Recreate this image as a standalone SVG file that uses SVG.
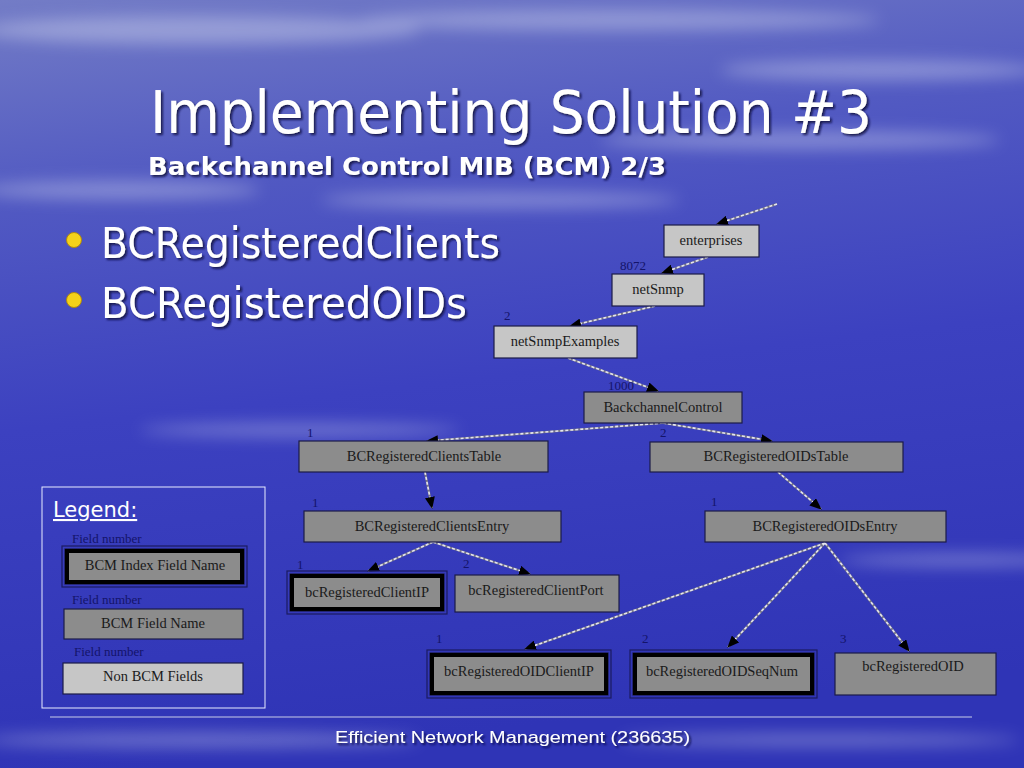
<svg xmlns="http://www.w3.org/2000/svg" width="1024" height="768" viewBox="0 0 1024 768">
<defs>
<linearGradient id="bg" x1="0" y1="0" x2="0.15" y2="1">
<stop offset="0" stop-color="#737cc6"/>
<stop offset="0.25" stop-color="#525ac2"/>
<stop offset="0.55" stop-color="#3c41c0"/>
<stop offset="1" stop-color="#2f34b6"/>
</linearGradient>
<filter id="blur" x="-20%" y="-50%" width="140%" height="200%"><feGaussianBlur stdDeviation="8"/></filter>
<filter id="sh" x="-5%" y="-20%" width="110%" height="140%"><feDropShadow dx="2" dy="2" stdDeviation="0.8" flood-color="#101040" flood-opacity="0.85"/></filter>
<marker id="arr" markerUnits="userSpaceOnUse" markerWidth="12" markerHeight="10" refX="11" refY="5" orient="auto">
<path d="M0,0 L12,5 L0,10 Z" fill="#000"/>
</marker>
<style>
.title{font-family:"DejaVu Sans",Tahoma,sans-serif;fill:#fff}
.bul{font-family:"DejaVu Sans",Tahoma,sans-serif;fill:#fff;font-size:42px}
.nd{fill:#8c8c8c;stroke:#1c1c48;stroke-width:1.2}
.nl{fill:#c6c6c6;stroke:#1c1c48;stroke-width:1.2}
.idx{fill:none;stroke:#000;stroke-width:4}
.out{fill:none;stroke:#1c1c60;stroke-width:1.2}
.t{font-family:"Liberation Serif","Times New Roman",serif;font-size:14.5px;fill:#1a1a1a;text-anchor:middle}
.n{font-family:"Liberation Serif","Times New Roman",serif;font-size:13px;fill:#14146a}
.c{fill:none;stroke:#e4e4f0;stroke-width:1.6;stroke-dasharray:3 2}
.cb{fill:none;stroke:#777788;stroke-width:2.2}
</style>
</defs>
<rect width="1024" height="768" fill="url(#bg)"/>
<g opacity="0.35" filter="url(#blur)" fill="#e8ecf8">
<ellipse cx="200" cy="30" rx="220" ry="14"/>
<ellipse cx="620" cy="20" rx="260" ry="10"/>
<ellipse cx="880" cy="70" rx="160" ry="10"/>
<ellipse cx="120" cy="190" rx="140" ry="9"/>
<ellipse cx="500" cy="200" rx="180" ry="8"/>
<ellipse cx="800" cy="140" rx="200" ry="9"/>
<ellipse cx="300" cy="430" rx="160" ry="6"/>
<ellipse cx="960" cy="560" rx="120" ry="6"/>
<ellipse cx="200" cy="740" rx="220" ry="7"/>
<ellipse cx="820" cy="740" rx="200" ry="6"/>
</g>

<g id="title" filter="url(#sh)">
<text class="title" x="150" y="133" font-size="58" textLength="722" lengthAdjust="spacingAndGlyphs">Implementing Solution #3</text>
<text class="title" x="148" y="175" font-size="25" font-weight="bold" textLength="518" lengthAdjust="spacingAndGlyphs">Backchannel Control MIB (BCM) 2/3</text>
</g>

<g id="bullets">
<circle cx="74" cy="240" r="7.5" fill="#f4d21a" stroke="#b08a10" stroke-width="1"/>
<circle cx="74" cy="300" r="7.5" fill="#f4d21a" stroke="#b08a10" stroke-width="1"/>
<g filter="url(#sh)">
<text class="bul" x="101" y="258" textLength="399" lengthAdjust="spacingAndGlyphs">BCRegisteredClients</text>
<text class="bul" x="101" y="318" textLength="366" lengthAdjust="spacingAndGlyphs">BCRegisteredOIDs</text>
</g>
</g>

<g id="connectors">
<g class="under">
<path class="cb" d="M777,204 L717,224"/>
<path class="cb" d="M708,257 L662,273"/>
<path class="cb" d="M655,306 L570,326"/>
<path class="cb" d="M568,358 L658,391"/>
<path class="cb" d="M663,423 L427,441"/>
<path class="cb" d="M663,423 L772,441"/>
<path class="cb" d="M425,472 L432,508"/>
<path class="cb" d="M778,472 L821,509"/>
<path class="cb" d="M433,542 L368,571"/>
<path class="cb" d="M433,542 L530,574"/>
<path class="cb" d="M825,543 L525,649"/>
<path class="cb" d="M825,543 L728,647"/>
<path class="cb" d="M825,543 L909,651"/>
</g>
<path class="c" d="M777,204 L717,224" marker-end="url(#arr)"/>
<path class="c" d="M708,257 L662,273" marker-end="url(#arr)"/>
<path class="c" d="M655,306 L570,326" marker-end="url(#arr)"/>
<path class="c" d="M568,358 L658,391" marker-end="url(#arr)"/>
<path class="c" d="M663,423 L427,441" marker-end="url(#arr)"/>
<path class="c" d="M663,423 L772,441" marker-end="url(#arr)"/>
<path class="c" d="M425,472 L432,508" marker-end="url(#arr)"/>
<path class="c" d="M778,472 L821,509" marker-end="url(#arr)"/>
<path class="c" d="M433,542 L368,571" marker-end="url(#arr)"/>
<path class="c" d="M433,542 L530,574" marker-end="url(#arr)"/>
<path class="c" d="M825,543 L525,649" marker-end="url(#arr)"/>
<path class="c" d="M825,543 L728,647" marker-end="url(#arr)"/>
<path class="c" d="M825,543 L909,651" marker-end="url(#arr)"/>
</g>

<g id="enterprises">
<rect class="nl" x="664" y="225" width="95" height="32"/>
<text class="t" x="711" y="245">enterprises</text>
</g>
<g id="netSnmp">
<text class="n" x="620" y="270">8072</text>
<rect class="nl" x="612" y="274" width="92" height="32"/>
<text class="t" x="658" y="294">netSnmp</text>
</g>
<g id="netSnmpExamples">
<text class="n" x="504" y="320">2</text>
<rect class="nl" x="494" y="326" width="143" height="32"/>
<text class="t" x="565" y="346">netSnmpExamples</text>
</g>
<g id="BackchannelControl">
<text class="n" x="608" y="390">1000</text>
<rect class="nd" x="584" y="392" width="158" height="31"/>
<text class="t" x="663" y="412">BackchannelControl</text>
</g>
<g id="BCRegisteredClientsTable">
<text class="n" x="307" y="437">1</text>
<rect class="nd" x="299" y="441" width="249" height="31"/>
<text class="t" x="424" y="461">BCRegisteredClientsTable</text>
</g>
<g id="BCRegisteredOIDsTable">
<text class="n" x="660" y="437">2</text>
<rect class="nd" x="650" y="442" width="253" height="30"/>
<text class="t" x="776" y="461">BCRegisteredOIDsTable</text>
</g>
<g id="BCRegisteredClientsEntry">
<text class="n" x="312" y="507">1</text>
<rect class="nd" x="304" y="511" width="257" height="31"/>
<text class="t" x="432" y="531">BCRegisteredClientsEntry</text>
</g>
<g id="BCRegisteredOIDsEntry">
<text class="n" x="711" y="506">1</text>
<rect class="nd" x="705" y="511" width="241" height="31"/>
<text class="t" x="825" y="531">BCRegisteredOIDsEntry</text>
</g>
<g id="bcRegisteredClientIP">
<text class="n" x="297" y="569">1</text>
<rect class="out" x="287" y="571" width="160" height="43"/>
<rect class="nd" x="290" y="574" width="154" height="37" stroke="none"/>
<rect class="idx" x="292" y="576" width="150" height="33"/>
<text class="t" x="367" y="597">bcRegisteredClientIP</text>
</g>
<g id="bcRegisteredClientPort">
<text class="n" x="463" y="568">2</text>
<rect class="nd" x="455" y="575" width="164" height="37"/>
<text class="t" x="536" y="595">bcRegisteredClientPort</text>
</g>
<g id="bcRegisteredOIDClientIP">
<text class="n" x="436" y="643">1</text>
<rect class="out" x="427" y="650" width="184" height="48"/>
<rect class="nd" x="430" y="653" width="178" height="42" stroke="none"/>
<rect class="idx" x="432" y="655" width="174" height="38"/>
<text class="t" x="519" y="676">bcRegisteredOIDClientIP</text>
</g>
<g id="bcRegisteredOIDSeqNum">
<text class="n" x="642" y="643">2</text>
<rect class="out" x="630" y="650" width="187" height="48"/>
<rect class="nd" x="633" y="653" width="181" height="42" stroke="none"/>
<rect class="idx" x="635" y="655" width="177" height="38"/>
<text class="t" x="722" y="676">bcRegisteredOIDSeqNum</text>
</g>
<g id="bcRegisteredOID">
<text class="n" x="840" y="643">3</text>
<rect class="nd" x="835" y="653" width="161" height="42"/>
<text class="t" x="913" y="671">bcRegisteredOID</text>
</g>

<g id="legend">
<rect x="42" y="487" width="223" height="221" fill="none" stroke="#e8ecff" stroke-width="1"/>
<text x="53" y="517" font-family="DejaVu Sans,Tahoma,sans-serif" font-size="21" fill="#fff" text-decoration="underline">Legend:</text>
<text class="n" x="72" y="543" font-size="11.5">Field number</text>
<rect class="out" x="62" y="546" width="185" height="41"/>
<rect class="nd" x="65" y="549" width="179" height="35" stroke="none"/>
<rect class="idx" x="67" y="551" width="175" height="31"/>
<text class="t" x="155" y="570" font-size="14">BCM Index Field Name</text>
<text class="n" x="72" y="604" font-size="11.5">Field number</text>
<rect class="nd" x="64" y="609" width="179" height="30"/>
<text class="t" x="153" y="628" font-size="14">BCM Field Name</text>
<text class="n" x="74" y="656" font-size="11.5">Field number</text>
<rect class="nl" x="63" y="663" width="180" height="31"/>
<text class="t" x="153" y="681" font-size="14">Non BCM Fields</text>
</g>

<g id="footer">
<line x1="50" y1="717" x2="972" y2="717" stroke="#c8cce8" stroke-width="1"/>
<text x="335" y="743" font-family="Liberation Sans,Arial,sans-serif" font-size="17" fill="#fff" filter="url(#sh)" textLength="355" lengthAdjust="spacingAndGlyphs">Efficient Network Management (236635)</text>
</g>
</svg>
